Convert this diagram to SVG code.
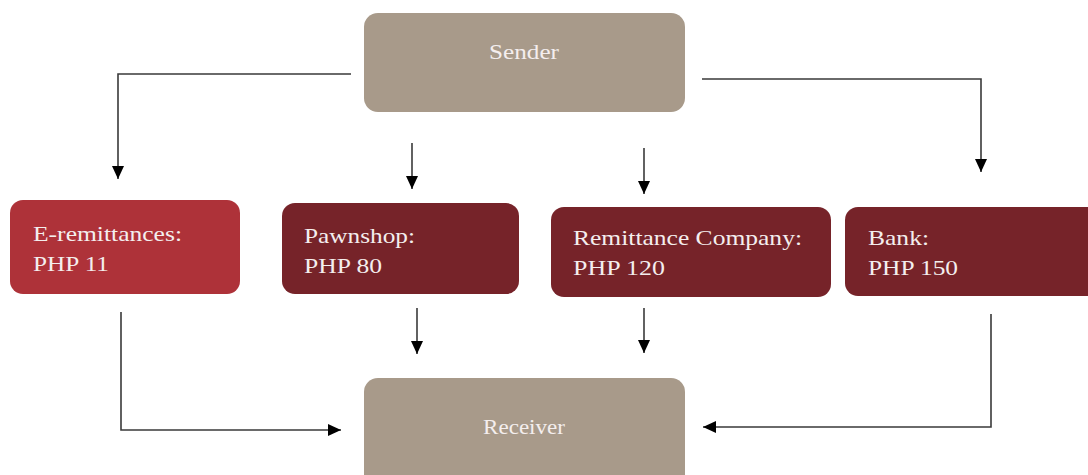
<svg xmlns="http://www.w3.org/2000/svg" width="1088" height="475" viewBox="0 0 1088 475">
  <defs>
    <marker id="arrow" markerUnits="userSpaceOnUse" markerWidth="14" markerHeight="13" refX="13" refY="6" orient="auto">
      <path d="M0,0 L13,6 L0,12 z" fill="#000"/>
    </marker>
    <style>
      .tan { fill: #a89a8a; }
      .red { fill: #ae3239; }
      .dark { fill: #762329; }
      .lbl { font-family: "Liberation Serif", "Times New Roman", serif; font-size: 22px; fill: #f4eeee; }
      .mid { text-anchor: middle; }
      .conn { fill: none; stroke: #3a3a3a; stroke-width: 1.6; marker-end: url(#arrow); }
    </style>
  </defs>

  <rect width="1088" height="475" fill="#ffffff"/>

  <!-- connectors -->
  <g id="connectors">
    <path class="conn" d="M351,74 H118 V179"/>
    <path class="conn" d="M412,143 V189"/>
    <path class="conn" d="M644,148 V194"/>
    <path class="conn" d="M702,79 H981 V172"/>
    <path class="conn" d="M121,312 V430 H341"/>
    <path class="conn" d="M417,308 V354"/>
    <path class="conn" d="M644,308 V353"/>
    <path class="conn" d="M991,314 V427 H703"/>
  </g>

  <!-- top node -->
  <g id="sender">
    <rect class="tan" x="364" y="13" width="321" height="99" rx="14"/>
    <text class="lbl mid" x="524" y="59" textLength="70" lengthAdjust="spacingAndGlyphs">Sender</text>
  </g>

  <!-- channel nodes -->
  <g id="e-remittances">
    <rect class="red" x="10" y="200" width="230" height="94" rx="13"/>
    <text class="lbl" x="33" y="241" textLength="149" lengthAdjust="spacingAndGlyphs">E-remittances:</text>
    <text class="lbl" x="33" y="271" textLength="76" lengthAdjust="spacingAndGlyphs">PHP 11</text>
  </g>

  <g id="pawnshop">
    <rect class="dark" x="282" y="203" width="237" height="91" rx="13"/>
    <text class="lbl" x="304" y="243" textLength="111" lengthAdjust="spacingAndGlyphs">Pawnshop:</text>
    <text class="lbl" x="304" y="273" textLength="78" lengthAdjust="spacingAndGlyphs">PHP 80</text>
  </g>

  <g id="remittance-company">
    <rect class="dark" x="551" y="207" width="280" height="90" rx="13"/>
    <text class="lbl" x="573" y="245" textLength="229" lengthAdjust="spacingAndGlyphs">Remittance Company:</text>
    <text class="lbl" x="573" y="275" textLength="92" lengthAdjust="spacingAndGlyphs">PHP 120</text>
  </g>

  <g id="bank">
    <rect class="dark" x="845" y="207" width="260" height="89" rx="13"/>
    <text class="lbl" x="868" y="245" textLength="61" lengthAdjust="spacingAndGlyphs">Bank:</text>
    <text class="lbl" x="868" y="275" textLength="90" lengthAdjust="spacingAndGlyphs">PHP 150</text>
  </g>

  <!-- bottom node -->
  <g id="receiver">
    <rect class="tan" x="364" y="378" width="321" height="110" rx="14"/>
    <text class="lbl mid" x="524" y="434" textLength="82" lengthAdjust="spacingAndGlyphs">Receiver</text>
  </g>
</svg>
